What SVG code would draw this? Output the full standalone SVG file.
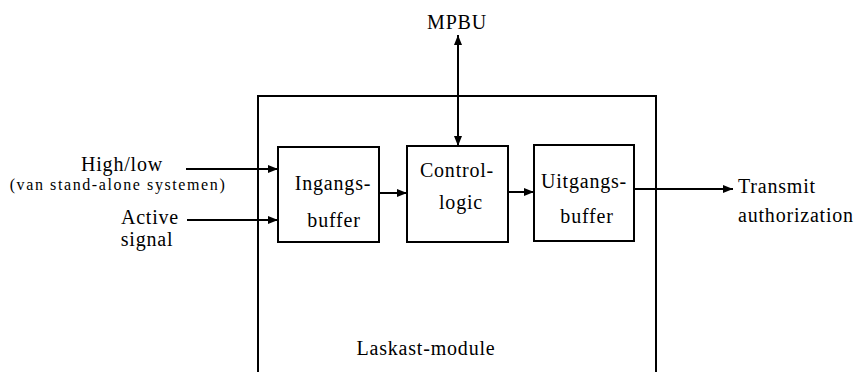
<svg xmlns="http://www.w3.org/2000/svg" width="857" height="372" viewBox="0 0 857 372">
<style>
.box{fill:#fff;stroke:#000;stroke-width:2}
.ln{fill:none;stroke:#000;stroke-width:2}
</style>
<defs>
<marker id="ah" markerUnits="userSpaceOnUse" markerWidth="10" markerHeight="10" viewBox="0 0 10 10" refX="10" refY="5" orient="auto-start-reverse">
<path d="M0,1 L10,5 L0,9 Z" fill="#000"/>
</marker>
</defs>
<g id="laskast-module">
<path class="ln" d="M258,372 V96 H656 V372"/>
<text font-family="Liberation Serif" font-size="20" letter-spacing="0.8" text-anchor="middle" x="426" y="355">Laskast-module</text>
</g>
<g id="ingangsbuffer">
<rect class="box" x="278" y="147" width="101" height="95"/>
<text font-family="Liberation Serif" font-size="20" letter-spacing="0.8" text-anchor="middle" x="333" y="190">Ingangs-</text>
<text font-family="Liberation Serif" font-size="20" letter-spacing="0.8" text-anchor="middle" x="334" y="227">buffer</text>
</g>
<g id="controllogic">
<rect class="box" x="407" y="146" width="101" height="96"/>
<text font-family="Liberation Serif" font-size="20" letter-spacing="0.8" text-anchor="middle" x="457" y="177">Control-</text>
<text font-family="Liberation Serif" font-size="20" letter-spacing="0.8" text-anchor="middle" x="461" y="209">logic</text>
</g>
<g id="uitgangsbuffer">
<rect class="box" x="534" y="145" width="100" height="96"/>
<text font-family="Liberation Serif" font-size="20" letter-spacing="0.8" text-anchor="middle" x="584" y="188">Uitgangs-</text>
<text font-family="Liberation Serif" font-size="20" letter-spacing="0.8" text-anchor="middle" x="587" y="223">buffer</text>
</g>
<g id="mpbu">
<text font-family="Liberation Serif" font-size="20" letter-spacing="0.8" text-anchor="middle" x="457" y="29">MPBU</text>
</g>
<g id="highlow">
<text font-family="Liberation Serif" font-size="20" letter-spacing="0.8" text-anchor="middle" x="122" y="171">High/low</text>
<text font-family="Liberation Serif" font-size="16" letter-spacing="1.6" text-anchor="middle" x="118" y="190">(van stand-alone systemen)</text>
</g>
<g id="active-signal">
<text font-family="Liberation Serif" font-size="20" letter-spacing="0.8" text-anchor="middle" x="150" y="224">Active</text>
<text font-family="Liberation Serif" font-size="20" letter-spacing="0.8" text-anchor="middle" x="147" y="246">signal</text>
</g>
<g id="transmit-authorization">
<text font-family="Liberation Serif" font-size="20" letter-spacing="0.8" x="738" y="193">Transmit</text>
<text font-family="Liberation Serif" font-size="20" letter-spacing="0.8" x="738" y="222">authorization</text>
</g>
<g id="connectors">
<line class="ln" x1="186" y1="169" x2="278" y2="169" marker-end="url(#ah)"/>
<line class="ln" x1="187" y1="220" x2="278" y2="220" marker-end="url(#ah)"/>
<line class="ln" x1="379" y1="193" x2="407" y2="193" marker-end="url(#ah)"/>
<line class="ln" x1="508" y1="192" x2="534" y2="192" marker-end="url(#ah)"/>
<line class="ln" x1="634" y1="189" x2="733" y2="189" marker-end="url(#ah)"/>
<line class="ln" x1="458" y1="35" x2="458" y2="146" marker-start="url(#ah)" marker-end="url(#ah)"/>
</g>
</svg>
